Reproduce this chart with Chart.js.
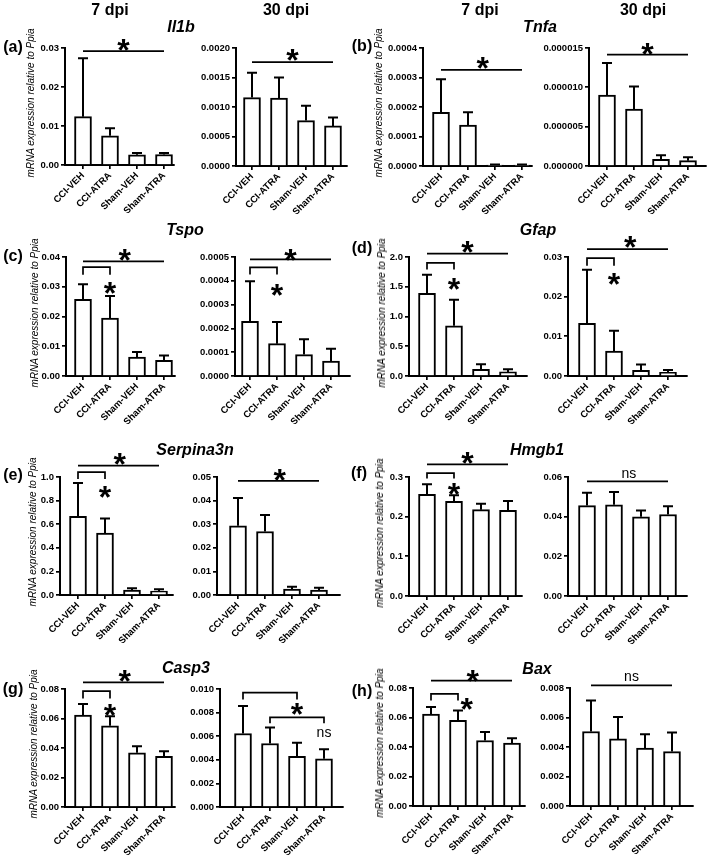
<!DOCTYPE html>
<html>
<head>
<meta charset="utf-8">
<script src="https://cdn.jsdelivr.net/npm/chart.js@4.4.1/dist/chart.umd.min.js"></script>
<style>
html, body { margin: 0; padding: 0; background: #fff; }
#fig { position: relative; width: 709px; height: 857px; overflow: hidden; font-family: "Liberation Sans", Arial, sans-serif; color: #000; }
#fig canvas { position: absolute; }
.lbl { position: absolute; transform: translate(-50%, -50%); white-space: nowrap; line-height: 1; }
.hdr { font-weight: bold; font-size: 16px; }
.gene { font-weight: bold; font-style: italic; font-size: 16px; }
.pl { font-weight: bold; font-size: 16px; }
.yt { font-style: italic; font-size: 10px; transform: translate(-50%, -50%) rotate(-90deg); }
</style>
</head>
<body>
<div id="fig"></div>
<script>
// groups on the x axis
const groups = ['CCI-VEH', 'CCI-ATRA', 'Sham-VEH', 'Sham-ATRA'];

// means and SD (upper error bar), tick labels per panel
const il1b7 = [0.0124, 0.0075, 0.0026, 0.0027];
const il1b7Sd = [0.015, 0.0019, 0.0005, 0.0004];
const il1b7Ticks = ['0.00', '0.01', '0.02', '0.03'];
const il1b30 = [0.00116, 0.00115, 0.00077, 0.00068];
const il1b30Sd = [0.00042, 0.00035, 0.00025, 0.00014];
const il1b30Ticks = ['0.0000', '0.0005', '0.0010', '0.0015', '0.0020'];

const tnfa7 = [0.000182, 0.000139, 0.000003, 0.000003];
const tnfa7Sd = [0.000112, 0.000043, 0.000002, 0.000002];
const tnfa7Ticks = ['0.0000', '0.0001', '0.0002', '0.0003', '0.0004'];
const tnfa30 = [0.0000090, 0.00000725, 0.00000085, 0.00000068];
const tnfa30Sd = [0.0000041, 0.00000285, 0.00000051, 0.00000042];
const tnfa30Ticks = ['0.000000', '0.000005', '0.000010', '0.000015'];

const tspo7 = [0.0258, 0.0195, 0.0064, 0.0053];
const tspo7Sd = [0.005, 0.0074, 0.0017, 0.0016];
const tspo7Ticks = ['0.00', '0.01', '0.02', '0.03', '0.04'];
const tspo30 = [0.00023, 0.000136, 0.00009, 0.000063];
const tspo30Sd = [0.000168, 0.000091, 0.000064, 0.000052];
const tspo30Ticks = ['0.0000', '0.0001', '0.0002', '0.0003', '0.0004', '0.0005'];

const gfap7 = [1.39, 0.845, 0.113, 0.068];
const gfap7Sd = [0.31, 0.435, 0.084, 0.045];
const gfap7Ticks = ['0.0', '0.5', '1.0', '1.5', '2.0'];
const gfap30 = [0.0133, 0.0063, 0.0014, 0.0009];
const gfap30Sd = [0.0135, 0.0051, 0.0015, 0.0006];
const gfap30Ticks = ['0.00', '0.01', '0.02', '0.03'];

const serp7 = [0.666, 0.524, 0.042, 0.034];
const serp7Sd = [0.283, 0.125, 0.015, 0.014];
const serp7Ticks = ['0.0', '0.2', '0.4', '0.6', '0.8', '1.0'];
const serp30 = [0.0293, 0.0269, 0.0025, 0.0021];
const serp30Sd = [0.0118, 0.007, 0.001, 0.001];
const serp30Ticks = ['0.00', '0.01', '0.02', '0.03', '0.04', '0.05'];

const hmgb7 = [0.256, 0.2387, 0.2176, 0.216];
const hmgb7Sd = [0.0255, 0.0153, 0.0152, 0.0235];
const hmgb7Ticks = ['0.0', '0.1', '0.2', '0.3'];
const hmgb30 = [0.0456, 0.046, 0.0399, 0.0411];
const hmgb30Sd = [0.0064, 0.0064, 0.0032, 0.0042];
const hmgb30Ticks = ['0.00', '0.02', '0.04', '0.06'];

const casp7 = [0.0623, 0.0551, 0.0367, 0.0344];
const casp7Sd = [0.0075, 0.0065, 0.0045, 0.0034];
const casp7Ticks = ['0.00', '0.02', '0.04', '0.06', '0.08'];
const casp30 = [0.00623, 0.00538, 0.0043, 0.00408];
const casp30Sd = [0.00232, 0.00136, 0.00114, 0.00082];
const casp30Ticks = ['0.000', '0.002', '0.004', '0.006', '0.008', '0.010'];

const bax7 = [0.0623, 0.058, 0.0444, 0.0426];
const bax7Sd = [0.0048, 0.0068, 0.0057, 0.0034];
const bax7Ticks = ['0.00', '0.02', '0.04', '0.06', '0.08'];
const bax30 = [0.00505, 0.00455, 0.00392, 0.00369];
const bax30Sd = [0.00211, 0.00148, 0.00095, 0.0013];
const bax30Ticks = ['0.000', '0.002', '0.004', '0.006', '0.008'];

// layout constants (px)
const YW = 50, PT = 40, XH = 48, PR = 12, SP = 27;
const FONT = 'Liberation Sans';
const LW = 2;

// significance marks: line, bracket, text (x in group index, y in data units)
const L = (a, b, y) => ({ t: 'line', a, b, y });
const B = (a, b, y, y2) => ({ t: 'br', a, b, y, y2 });
const S = (x, y) => ({ t: 'txt', s: '*', x, y });
const NS = (x, y) => ({ t: 'txt', s: 'ns', x, y });

const panels = [
    { vals: il1b7, sd: il1b7Sd, ticks: il1b7Ticks, ax: 65, top: 48, bot: 165, w: 109, off: 18, tx: 31,
      notes: [L(0, 3, 0.0292), S(1.5, 0.0315)] },
    { vals: il1b30, sd: il1b30Sd, ticks: il1b30Ticks, ax: 236, top: 48, bot: 166, w: 111, off: 16,
      notes: [L(0, 3, 0.00176), S(1.5, 0.00192)] },
    { vals: tnfa7, sd: tnfa7Sd, ticks: tnfa7Ticks, ax: 423, top: 48, bot: 166, w: 109, off: 18, tx: 379,
      notes: [L(0, 3, 0.000326), S(1.55, 0.000357)] },
    { vals: tnfa30, sd: tnfa30Sd, ticks: tnfa30Ticks, ax: 589, top: 48, bot: 166, w: 117, off: 18,
      notes: [L(0, 3, 0.00001415), S(1.5, 0.0000152)] },
    { vals: tspo7, sd: tspo7Sd, ticks: tspo7Ticks, ax: 66, top: 257, bot: 376, w: 109, off: 17, tx: 35,
      notes: [L(0, 3, 0.0385), S(1.55, 0.0417), B(0, 1, 0.0366, 0.034), S(1, 0.0305)] },
    { vals: tspo30, sd: tspo30Sd, ticks: tspo30Ticks, ax: 235, top: 257, bot: 376, w: 115, off: 15,
      notes: [L(0, 3, 0.00049), S(1.5, 0.00052), B(0, 1, 0.000456, 0.000426), S(1, 0.000374)] },
    { vals: gfap7, sd: gfap7Sd, ticks: gfap7Ticks, ax: 409, top: 257, bot: 376, w: 118, off: 18, tx: 382,
      notes: [L(0, 3, 2.056), S(1.5, 2.21), B(0, 1, 1.90, 1.79), S(1, 1.59)] },
    { vals: gfap30, sd: gfap30Sd, ticks: gfap30Ticks, ax: 568, top: 257, bot: 376, w: 119, off: 19,
      notes: [L(0, 3, 0.032), S(1.6, 0.0344), B(0, 1, 0.0297, 0.0278), S(1, 0.025)] },
    { vals: serp7, sd: serp7Sd, ticks: serp7Ticks, ax: 60, top: 477, bot: 595, w: 113, off: 18, tx: 33,
      notes: [L(0, 3, 1.096), S(1.55, 1.176), B(0, 1, 1.042, 0.983), S(1, 0.898)] },
    { vals: serp30, sd: serp30Sd, ticks: serp30Ticks, ax: 217, top: 477, bot: 595, w: 123, off: 21,
      notes: [L(0, 3, 0.0484), S(1.55, 0.052)] },
    { vals: hmgb7, sd: hmgb7Sd, ticks: hmgb7Ticks, ax: 409, top: 477, bot: 596, w: 113, off: 18, tx: 380,
      notes: [L(0, 3, 0.332), S(1.5, 0.355), B(0, 1, 0.310, 0.296), S(1, 0.2765)] },
    { vals: hmgb30, sd: hmgb30Sd, ticks: hmgb30Ticks, ax: 568, top: 477, bot: 596, w: 119, off: 19,
      notes: [L(0, 3, 0.0578), NS(1.55, 0.0617)] },
    { vals: casp7, sd: casp7Sd, ticks: casp7Ticks, ax: 65, top: 689, bot: 807, w: 110, off: 18, tx: 34,
      notes: [L(0, 3, 0.0845), S(1.55, 0.0906), B(0, 1, 0.0786, 0.0736), S(1, 0.0675)] },
    { vals: casp30, sd: casp30Sd, ticks: casp30Ticks, ax: 220, top: 689, bot: 807, w: 123, off: 23,
      notes: [B(0, 2, 0.00969, 0.00912), S(2, 0.00856), B(1, 3, 0.0076, 0.0071), NS(3, 0.00629)] },
    { vals: bax7, sd: bax7Sd, ticks: bax7Ticks, ax: 413, top: 688, bot: 806, w: 112, off: 18, tx: 380,
      notes: [L(0, 3, 0.085), S(1.55, 0.0902), B(0, 1, 0.076, 0.0716), S(1.32, 0.0709)] },
    { vals: bax30, sd: bax30Sd, ticks: bax30Ticks, ax: 570, top: 688, bot: 806, w: 123, off: 21,
      notes: [L(0, 3, 0.00818), NS(1.5, 0.00875)] }
];

// error bars + significance marks, drawn through the chart's scales
const marksPlugin = {
    id: 'marks',
    afterDatasetsDraw(chart, args, opts) {
        const { ctx } = chart;
        const x = chart.scales.x, y = chart.scales.y;
        const pts = chart.data.datasets[0].data;
        ctx.save();
        ctx.strokeStyle = '#000';
        ctx.fillStyle = '#000';
        ctx.lineWidth = LW;
        ctx.lineCap = 'butt';
        pts.forEach((p, i) => {
            const px = x.getPixelForValue(p.x);
            const y0 = y.getPixelForValue(p.y);
            const y1 = y.getPixelForValue(p.y + opts.sd[i]);
            ctx.beginPath();
            ctx.moveTo(px, y0);
            ctx.lineTo(px, y1);
            ctx.moveTo(px - 5, y1);
            ctx.lineTo(px + 5, y1);
            ctx.stroke();
        });
        ctx.lineWidth = 1.7;
        opts.notes.forEach(n => {
            if (n.t === 'line') {
                const py = y.getPixelForValue(n.y);
                ctx.beginPath();
                ctx.moveTo(x.getPixelForValue(n.a), py);
                ctx.lineTo(x.getPixelForValue(n.b), py);
                ctx.stroke();
            } else if (n.t === 'br') {
                const py = y.getPixelForValue(n.y), py2 = y.getPixelForValue(n.y2);
                const xa = x.getPixelForValue(n.a), xb = x.getPixelForValue(n.b);
                ctx.beginPath();
                ctx.moveTo(xa, py2);
                ctx.lineTo(xa, py);
                ctx.lineTo(xb, py);
                ctx.lineTo(xb, py2);
                ctx.stroke();
            } else {
                const px = x.getPixelForValue(n.x), py = y.getPixelForValue(n.y);
                ctx.textAlign = 'center';
                ctx.textBaseline = 'alphabetic';
                if (n.s === '*') {
                    ctx.font = 'bold 32px "' + FONT + '"';
                    ctx.fillText(n.s, px, py + 0.58 * 32);
                } else {
                    ctx.font = '14px "' + FONT + '"';
                    ctx.fillText(n.s, px, py + 4);
                }
            }
        });
        ctx.restore();
    }
};

Chart.defaults.font.family = FONT;
Chart.defaults.color = '#000';

const fig = document.getElementById('fig');

function makePanel(p) {
    const canvas = document.createElement('canvas');
    const cw = YW + p.w + PR;
    const ch = PT + (p.bot - p.top) + XH;
    canvas.width = cw;
    canvas.height = ch;
    canvas.style.left = (p.ax - YW) + 'px';
    canvas.style.top = (p.top - PT) + 'px';
    canvas.style.width = cw + 'px';
    canvas.style.height = ch + 'px';
    fig.appendChild(canvas);

    const tickVals = p.ticks.map(parseFloat);
    const tickFont = { size: 9.5, weight: 'bold' };

    new Chart(canvas.getContext('2d'), {
        type: 'bar',
        data: {
            datasets: [{
                data: p.vals.map((v, i) => ({ x: i, y: v })),
                backgroundColor: '#fff',
                borderColor: '#000',
                borderWidth: LW,
                borderSkipped: 'bottom',
                barThickness: 17
            }]
        },
        options: {
            responsive: false,
            animation: false,
            events: [],
            layout: { padding: { top: PT, right: PR, left: 0, bottom: 0 } },
            plugins: {
                legend: { display: false },
                tooltip: { enabled: false },
                marks: { sd: p.sd, notes: p.notes }
            },
            scales: {
                x: {
                    type: 'linear',
                    offset: false,
                    min: -p.off / SP,
                    max: (p.w - p.off) / SP,
                    afterBuildTicks: s => { s.ticks = groups.map((g, i) => ({ value: i })); },
                    afterFit: s => { s.height = XH; },
                    ticks: {
                        callback: (v, i) => groups[i],
                        minRotation: 45, maxRotation: 45, autoSkip: false,
                        padding: 1, font: tickFont, color: '#000'
                    },
                    grid: { offset: false, drawOnChartArea: false, drawTicks: true, tickLength: 4, color: '#000', lineWidth: 1.7 },
                    border: { display: true, color: '#000', width: LW }
                },
                y: {
                    min: 0,
                    max: tickVals[tickVals.length - 1],
                    afterBuildTicks: s => { s.ticks = tickVals.map(v => ({ value: v })); },
                    afterFit: s => { s.width = YW; },
                    ticks: {
                        callback: (v, i) => p.ticks[i],
                        padding: 2, font: tickFont, color: '#000'
                    },
                    grid: { drawOnChartArea: false, drawTicks: true, tickLength: 4, color: '#000', lineWidth: 1.7 },
                    border: { display: true, color: '#000', width: LW }
                }
            }
        },
        plugins: [marksPlugin]
    });

    if (p.tx !== undefined) {
        addText('mRNA expression relative to <i>Ppia</i>', 'yt', p.tx, (p.top + p.bot) / 2 - 4);
    }
}

function addText(html, cls, cx, cy) {
    const d = document.createElement('div');
    d.className = 'lbl ' + cls;
    d.innerHTML = html;
    d.style.left = cx + 'px';
    d.style.top = cy + 'px';
    fig.appendChild(d);
}

panels.forEach(makePanel);

// column headers
addText('7 dpi', 'hdr', 110, 10);
addText('30 dpi', 'hdr', 286, 10);
addText('7 dpi', 'hdr', 480, 10);
addText('30 dpi', 'hdr', 643, 10);

// gene names
addText('Il1b', 'gene', 181, 27);
addText('Tnfa', 'gene', 540, 27);
addText('Tspo', 'gene', 185, 230);
addText('Gfap', 'gene', 538, 230);
addText('Serpina3n', 'gene', 195, 450);
addText('Hmgb1', 'gene', 537, 450);
addText('Casp3', 'gene', 186, 668);
addText('Bax', 'gene', 537, 669);

// panel letters
addText('(a)', 'pl', 13, 47);
addText('(b)', 'pl', 362, 46);
addText('(c)', 'pl', 13, 256);
addText('(d)', 'pl', 362, 248);
addText('(e)', 'pl', 13, 475);
addText('(f)', 'pl', 359, 473);
addText('(g)', 'pl', 13, 689);
addText('(h)', 'pl', 362, 691);
</script>
</body>
</html>
